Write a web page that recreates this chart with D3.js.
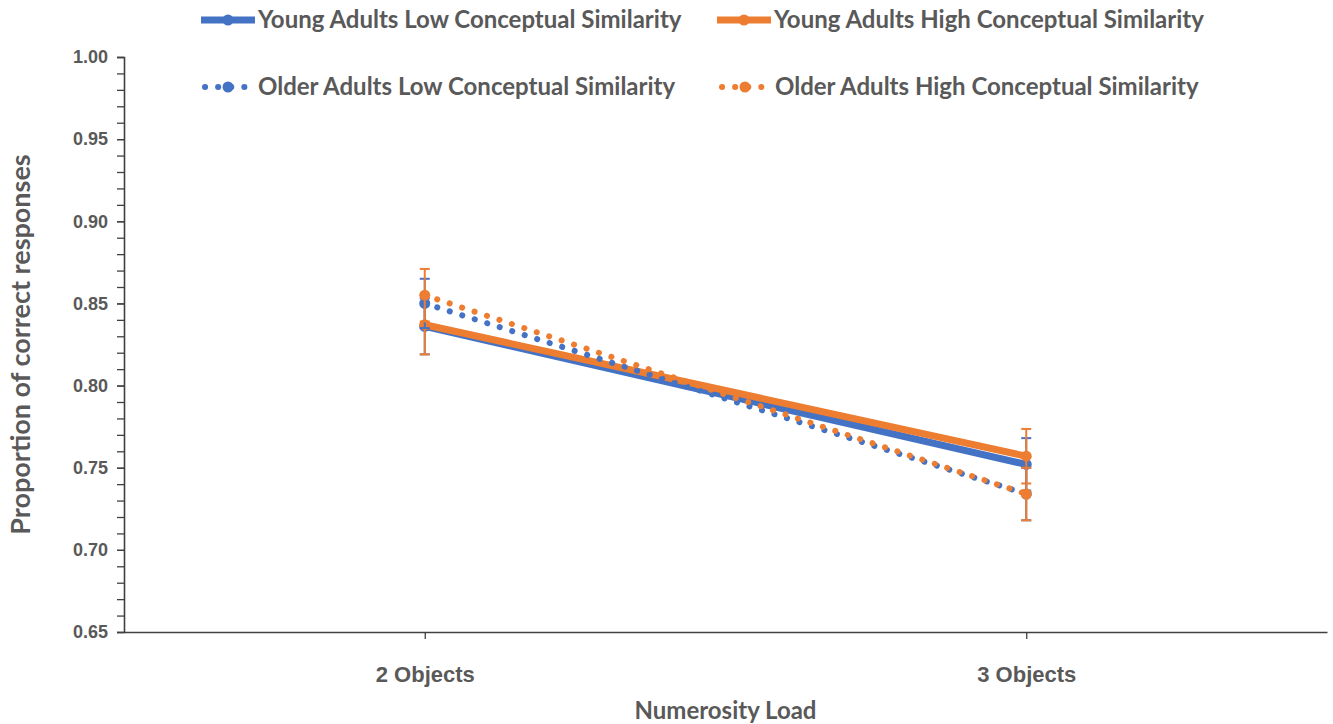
<!DOCTYPE html>
<html>
<head>
<meta charset="utf-8">
<script src="https://cdn.jsdelivr.net/npm/d3@7"></script>
<style>
    body { margin: 0; background: #fff; }
    svg { display: block; font-family: Lato, "Open Sans", sans-serif; }
</style>
</head>
<body>
<div id="chart"></div>
<script>
    // Data
    const categories = ['2 Objects', '3 Objects'];
    const seriesNames = [
        'Young Adults Low Conceptual Similarity',
        'Young Adults High Conceptual Similarity',
        'Older Adults Low Conceptual Similarity',
        'Older Adults High Conceptual Similarity'
    ];
    const youngLow = [0.836, 0.752];
    const youngHigh = [0.837, 0.757];
    const olderLow = [0.850, 0.734];
    const olderHigh = [0.855, 0.734];
    const youngLowErr = [0.017, 0.016];
    const youngHighErr = [0.018, 0.0166];
    const olderLowErr = [0.015, 0.016];
    const olderHighErr = [0.016, 0.016];
    const yTicks = [0.65, 0.70, 0.75, 0.80, 0.85, 0.90, 0.95, 1.00];

    const BLUE = '#4472C4';
    const ORANGE = '#ED7D31';
    const TEXT = '#595959';

    const series = [
        { name: seriesNames[0], values: youngLow, err: youngLowErr, color: BLUE, dotted: false },
        { name: seriesNames[1], values: youngHigh, err: youngHighErr, color: ORANGE, dotted: false },
        { name: seriesNames[2], values: olderLow, err: olderLowErr, color: BLUE, dotted: true },
        { name: seriesNames[3], values: olderHigh, err: olderHighErr, color: ORANGE, dotted: true }
    ];

    const W = 1333, H = 724;
    const margin = { top: 57, right: 6, bottom: 92, left: 124 };
    const width = W - margin.left - margin.right;
    const height = H - margin.top - margin.bottom;

    const svg = d3.select('#chart').append('svg')
        .attr('width', W)
        .attr('height', H);

    const g = svg.append('g')
        .attr('transform', `translate(${margin.left},${margin.top})`);

    const x = d3.scalePoint().domain(categories).range([0, width]).padding(0.5);
    const y = d3.scaleLinear().domain([0.65, 1.0]).range([height, 0]);

    // Y axis with minor ticks every 0.01
    const minor = d3.range(65, 101).map(v => v / 100);
    g.append('g')
        .call(d3.axisLeft(y).tickValues(minor).tickSize(7).tickFormat(''))
        .call(a => a.select('.domain').remove())
        .selectAll('line').attr('stroke', '#404040').attr('stroke-width', 1.3);

    const yAxis = g.append('g')
        .call(d3.axisLeft(y).tickValues(yTicks).tickSize(7).tickPadding(9).tickFormat(d3.format('.2f')));
    yAxis.select('.domain').attr('stroke', '#404040').attr('stroke-width', 1.6);
    yAxis.selectAll('.tick line').attr('stroke', '#404040').attr('stroke-width', 1.3);
    yAxis.selectAll('.tick text')
        .attr('fill', TEXT)
        .style('font-size', '18px')
        .style('font-weight', 'bold');

    // X axis
    const xAxis = g.append('g')
        .attr('transform', `translate(0,${height})`)
        .call(d3.axisBottom(x).tickSize(7).tickPadding(27).tickSizeOuter(0));
    xAxis.select('.domain').attr('stroke', '#404040').attr('stroke-width', 1.6);
    xAxis.selectAll('.tick line').attr('stroke', '#404040').attr('stroke-width', 1.3);
    xAxis.selectAll('.tick text')
        .attr('fill', TEXT)
        .style('font-size', '22px')
        .style('font-weight', 'bold');

    // Axis titles
    g.append('text')
        .attr('transform', 'rotate(-90)')
        .attr('x', -height / 2)
        .attr('y', -94)
        .attr('text-anchor', 'middle')
        .attr('fill', TEXT)
        .style('font-size', '27px')
        .style('font-weight', 'bold')
        .text('Proportion of correct responses');

    g.append('text')
        .attr('x', width / 2)
        .attr('y', height + 87)
        .attr('text-anchor', 'middle')
        .attr('fill', TEXT)
        .style('font-size', '24px')
        .style('font-weight', 'bold')
        .text('Numerosity Load');

    const line = d3.line()
        .x((d, i) => x(categories[i]))
        .y(d => y(d));

    // Series: line, error bars, markers (drawn in legend order)
    series.forEach(s => {
        const sg = g.append('g');

        sg.append('path')
            .datum(s.values)
            .attr('d', line)
            .attr('fill', 'none')
            .attr('stroke', s.color)
            .attr('stroke-width', s.dotted ? 6 : 7)
            .attr('stroke-linecap', 'round')
            .attr('stroke-dasharray', s.dotted ? '0.1 13' : null);

        const eb = sg.selectAll('.err')
            .data(s.values)
            .join('g')
            .attr('class', 'err');

        eb.append('line')
            .attr('x1', (d, i) => x(categories[i]))
            .attr('x2', (d, i) => x(categories[i]))
            .attr('y1', (d, i) => y(d + s.err[i]))
            .attr('y2', (d, i) => y(d - s.err[i]))
            .attr('stroke', s.color)
            .attr('stroke-width', 2);

        [1, -1].forEach(sign => {
            eb.append('line')
                .attr('x1', (d, i) => x(categories[i]) - 5)
                .attr('x2', (d, i) => x(categories[i]) + 5)
                .attr('y1', (d, i) => y(d + sign * s.err[i]))
                .attr('y2', (d, i) => y(d + sign * s.err[i]))
                .attr('stroke', s.color)
                .attr('stroke-width', 2);
        });

        sg.selectAll('circle')
            .data(s.values)
            .join('circle')
            .attr('cx', (d, i) => x(categories[i]))
            .attr('cy', d => y(d))
            .attr('r', 5.5)
            .attr('fill', s.color);
    });

    // Legend
    const legendPos = [
        { x: 201, y: 20 }, { x: 717, y: 20 },
        { x: 203, y: 87 }, { x: 720, y: 87 }
    ];

    series.forEach((s, i) => {
        const p = legendPos[i];
        const lg = svg.append('g').attr('transform', `translate(${p.x},${p.y})`);

        if (s.dotted) {
            lg.append('line')
                .attr('x1', 2).attr('x2', 50)
                .attr('stroke', s.color)
                .attr('stroke-width', 6)
                .attr('stroke-linecap', 'round')
                .attr('stroke-dasharray', '0.1 13');
        } else {
            lg.append('line')
                .attr('x1', 0).attr('x2', 54)
                .attr('stroke', s.color)
                .attr('stroke-width', 7);
        }
        lg.append('circle')
            .attr('cx', s.dotted ? 25 : 27)
            .attr('r', 5.5)
            .attr('fill', s.color);

        lg.append('text')
            .attr('x', s.dotted ? 55 : 57)
            .attr('dy', '0.35em')
            .attr('fill', TEXT)
            .style('font-size', '24px')
            .style('font-weight', 'bold')
            .text(s.name);
    });
</script>
</body>
</html>
